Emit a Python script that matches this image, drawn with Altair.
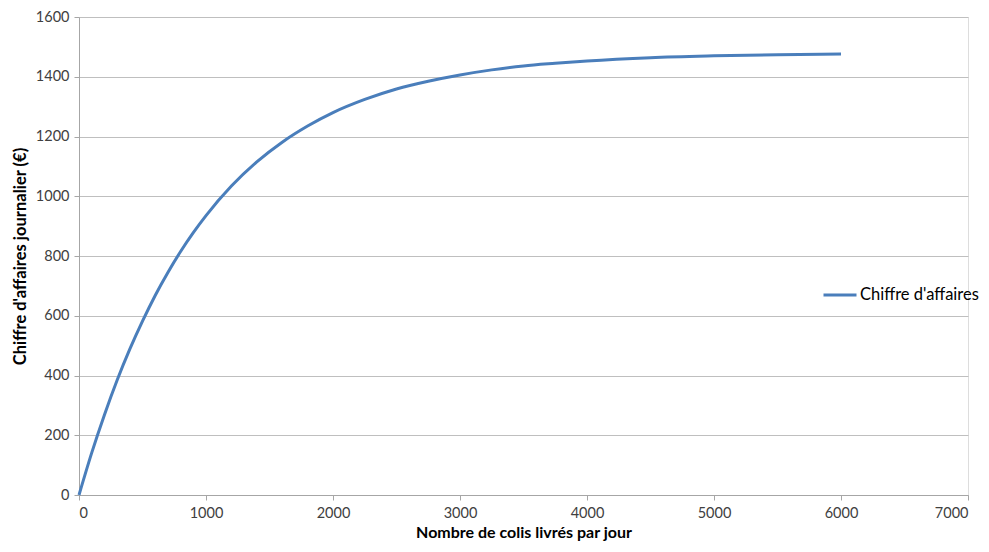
import altair as alt
import pandas as pd

colis = [0, 100, 200, 300, 400, 500, 600, 700, 800, 900, 1000, 1200, 1400, 1600,
         1800, 2000, 2250, 2500, 2750, 3000, 3250, 3500, 3750, 4000, 4500, 5000,
         5500, 6000]
chiffre = [0, 141, 268, 384, 488, 582, 668, 745, 815, 878, 935, 1034, 1115, 1181,
           1235, 1280, 1324, 1359, 1385, 1406, 1423, 1436, 1445, 1453, 1464, 1470,
           1474, 1476]
serie = "Chiffre d'affaires"

df = pd.DataFrame({"x": colis, "y": chiffre, "s": [serie] * len(colis)})

FONT = "Lato"

chart = alt.Chart(df).mark_line(strokeWidth=3, interpolate="monotone").encode(
    x=alt.X("x:Q", title="Nombre de colis livrés par jour",
            scale=alt.Scale(domain=[0, 7000], nice=False),
            axis=alt.Axis(values=[0, 1000, 2000, 3000, 4000, 5000, 6000, 7000],
                          format="d",
                          grid=False, domainColor="#a6a6a6", tickColor="#a6a6a6",
                          tickSize=5, labelPadding=6, labelFontSize=14.5,
                          labelColor="#404040", labelFont=FONT,
                          titleFont=FONT, titleFontSize=16, titleFontWeight="bold",
                          titleColor="#000000", titlePadding=5)),
    y=alt.Y("y:Q", title="Chiffre d'affaires journalier (€)",
            scale=alt.Scale(domain=[0, 1600], nice=False),
            axis=alt.Axis(values=[0, 200, 400, 600, 800, 1000, 1200, 1400, 1600],
                          format="d",
                          grid=True, gridColor="#bfbfbf", domainColor="#a6a6a6",
                          tickColor="#a6a6a6", tickSize=5, labelPadding=5,
                          labelFontSize=14.5, labelColor="#404040", labelFont=FONT,
                          titleFont=FONT, titleFontSize=16.5, titleFontWeight="bold",
                          titleColor="#000000", titlePadding=7)),
    color=alt.Color("s:N", scale=alt.Scale(domain=[serie], range=["#4a7ebb"]),
                    legend=alt.Legend(title=None, orient="none", legendX=743,
                                      legendY=260, padding=0, symbolType="stroke",
                                      symbolSize=1089, symbolStrokeWidth=3,
                                      labelFontSize=16.5, labelFont=FONT,
                                      labelColor="#000000", labelOffset=2)),
).properties(
    width=889, height=478,
    autosize=alt.AutoSizeParams(type="none"),
    padding={"left": 71, "top": 9, "right": 13, "bottom": 49},
).configure_view(stroke=None).configure(background="#ffffff")

chart.save("out.html", embed_options={"renderer": "svg", "actions": False})
